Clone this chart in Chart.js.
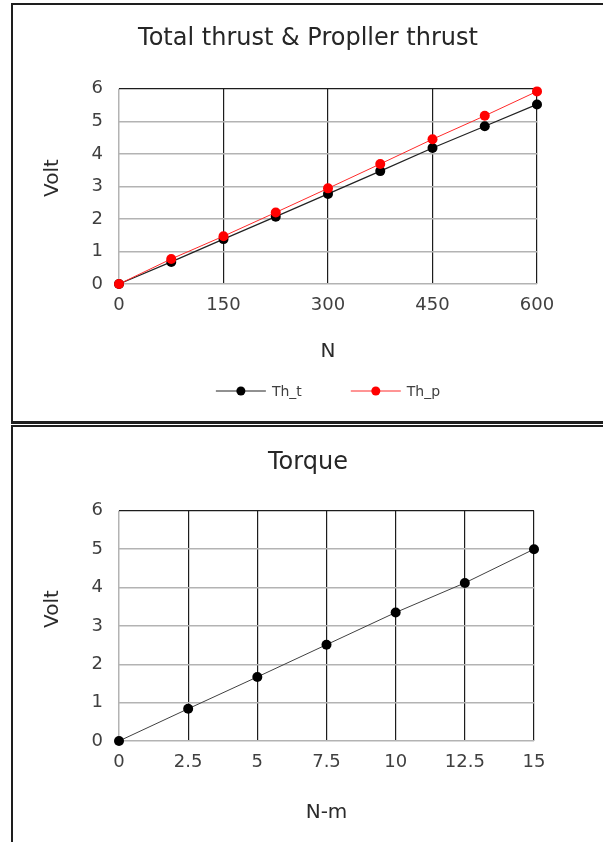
<!DOCTYPE html>
<html>
<head>
<meta charset="utf-8">
<script src="https://cdn.jsdelivr.net/npm/chart.js@4.4.1/dist/chart.umd.min.js"></script>
<style>
  html, body { margin:0; padding:0; background:#fff; width:603px; height:842px; overflow:hidden; position:relative; }
  .box { position:absolute; left:11px; width:620px; border:2px solid #1e1e1e; border-right:none; }
  #box1 { top:3px; height:416px; border-bottom-width:3px; }
  #box2 { top:425px; height:440px; border-bottom:none; }
  canvas { position:absolute; left:0; }
  #c1 { top:0; }
  #c2 { top:424px; }
</style>
</head>
<body>
<div class="box" id="box1"></div>
<div class="box" id="box2"></div>
<canvas id="c1" width="603" height="421"></canvas>
<canvas id="c2" width="603" height="418"></canvas>
<script>
(function(){
// thrust chart data (N -> Volt)
var thrustN = [0, 75, 150, 225, 300, 375, 450, 525, 600];
var thT = [0, 0.68, 1.38, 2.07, 2.77, 3.47, 4.18, 4.85, 5.52];
var thP = [0, 0.77, 1.47, 2.20, 2.94, 3.69, 4.45, 5.17, 5.92];
var thrustNames = ["Th_t", "Th_p"];

// torque chart data (N-m -> Volt)
var torqueNm = [0, 2.5, 5, 7.5, 10, 12.5, 15];
var torqueV = [0, 0.84, 1.67, 2.51, 3.35, 4.12, 5.0];

var FONT = "'DejaVu Sans', sans-serif";
var TXT = "#404040";
var GRID_GRAY = "#b3b3b3";
var GRID_DARK = "#1c1c1c";

function pts(xs, ys){ var a = []; for (var i=0;i<xs.length;i++){ a.push({x: xs[i], y: ys[i]}); } return a; }

// extra labels: rotated y title (sits a bit above the axis middle in the original) and the line+dot legend
var extras = {
  id: "extras",
  afterDraw: function(chart, args, o){
    var ctx = chart.ctx;
    ctx.save();
    if (o.yTitle){
      ctx.font = "20px " + FONT; ctx.fillStyle = "#2a2a2a";
      ctx.textAlign = "center"; ctx.textBaseline = "middle";
      ctx.translate(o.yTitle.x, o.yTitle.y); ctx.rotate(-Math.PI/2);
      ctx.fillText(o.yTitle.text, 0, 0);
      ctx.setTransform(1,0,0,1,0,0);
    }
    if (o.legend){
      var L = o.legend, ds = chart.data.datasets;
      ctx.font = L.size + "px " + FONT;
      var total = 0, widths = [];
      for (var i=0;i<ds.length;i++){ var w = L.lineLen + L.textGap + ctx.measureText(ds[i].label).width; widths.push(w); total += w; }
      total += L.itemGap * (ds.length - 1);
      var x = (chart.chartArea.left + chart.chartArea.right)/2 - total/2, y = L.y;
      for (var j=0;j<ds.length;j++){
        ctx.strokeStyle = ds[j].borderColor; ctx.lineWidth = 1;
        ctx.beginPath(); ctx.moveTo(x, y); ctx.lineTo(x + L.lineLen, y); ctx.stroke();
        ctx.fillStyle = ds[j].pointBackgroundColor;
        ctx.beginPath(); ctx.arc(x + L.lineLen/2, y, 4.5, 0, Math.PI*2); ctx.fill();
        ctx.fillStyle = TXT; ctx.textBaseline = "middle"; ctx.textAlign = "left";
        ctx.fillText(ds[j].label, x + L.lineLen + L.textGap, y + 1);
        x += widths[j] + L.itemGap;
      }
    }
    ctx.restore();
  }
};

function baseOptions(cfg){
  return {
    responsive: false,
    animation: false,
    layout: { padding: { left: 13, right: 0, top: 5, bottom: cfg.padBottom } },
    plugins: {
      legend: { display: false },
      tooltip: { enabled: false },
      title: { display: true, text: cfg.title, color: "#262626",
               font: { family: FONT, size: 24, weight: "normal" },
               padding: { top: 19, bottom: cfg.titleGap } },
      extras: { yTitle: { text: "Volt", x: 53, y: cfg.yTitleY }, legend: cfg.legend || null }
    },
    scales: {
      x: {
        type: "linear", min: 0, max: cfg.xMax,
        afterFit: function(s){ s.height = cfg.xAxisH; },
        ticks: { stepSize: cfg.xStep, padding: 11, color: TXT, font: { family: FONT, size: 18 } },
        grid: { drawTicks: false,
                color: function(c){ return (c.tick && c.tick.value === 0) ? GRID_GRAY : GRID_DARK; },
                lineWidth: function(c){ return (c.tick && c.tick.value === 0) ? 1.5 : 1.2; } },
        border: { display: false },
        title: { display: true, text: cfg.xTitle, color: "#2a2a2a", padding: 0,
                 font: { family: FONT, size: 20 } }
      },
      y: {
        min: 0, max: 6,
        afterFit: function(s){ s.width = 106; },
        ticks: { stepSize: 1, padding: 16, color: TXT, font: { family: FONT, size: 18 } },
        grid: { drawTicks: false,
                color: function(c){ return (c.tick && c.tick.value === 6) ? GRID_DARK : GRID_GRAY; },
                lineWidth: function(c){ return (c.tick && c.tick.value === 6) ? 1.2 : 1.5; } },
        border: { display: false },
        title: { display: false }
      },
      yR: {
        type: "linear", position: "right", display: true,
        afterFit: function(s){ s.width = cfg.rightGap; },
        ticks: { display: false }, grid: { display: false }, border: { display: false }
      }
    }
  };
}

new Chart(document.getElementById("c1"), {
  type: "line",
  data: { datasets: [
    { label: thrustNames[0], data: pts(thrustN, thT), borderColor: "#222222", borderWidth: 1.2,
      pointBackgroundColor: "#000000", pointBorderColor: "#000000", pointRadius: 5, pointBorderWidth: 0,
      clip: false, order: 1 },
    { label: thrustNames[1], data: pts(thrustN, thP), borderColor: "#ff2a2a", borderWidth: 1,
      pointBackgroundColor: "#ff0000", pointBorderColor: "#ff0000", pointRadius: 5, pointBorderWidth: 0,
      clip: false, order: 0 }
  ]},
  options: baseOptions({ title: "Total thrust & Propller thrust", titleGap: 36, padBottom: 57, xAxisH: 80,
    xMax: 600, xStep: 150, xTitle: "N", rightGap: 66, yTitleY: 178,
    legend: { y: 391, size: 14, lineLen: 50, textGap: 6, itemGap: 49 } }),
  plugins: [extras]
});

new Chart(document.getElementById("c2"), {
  type: "line",
  data: { datasets: [
    { label: "Torque", data: pts(torqueNm, torqueV), borderColor: "#404040", borderWidth: 1,
      pointBackgroundColor: "#000000", pointBorderColor: "#000000", pointRadius: 5, pointBorderWidth: 0,
      clip: false }
  ]},
  options: baseOptions({ title: "Torque", titleGap: 34, padBottom: 17, xAxisH: 84,
    xMax: 15, xStep: 2.5, xTitle: "N-m", rightGap: 69, yTitleY: 609 - 424 }),
  plugins: [extras]
});
})();
</script>
</body>
</html>
